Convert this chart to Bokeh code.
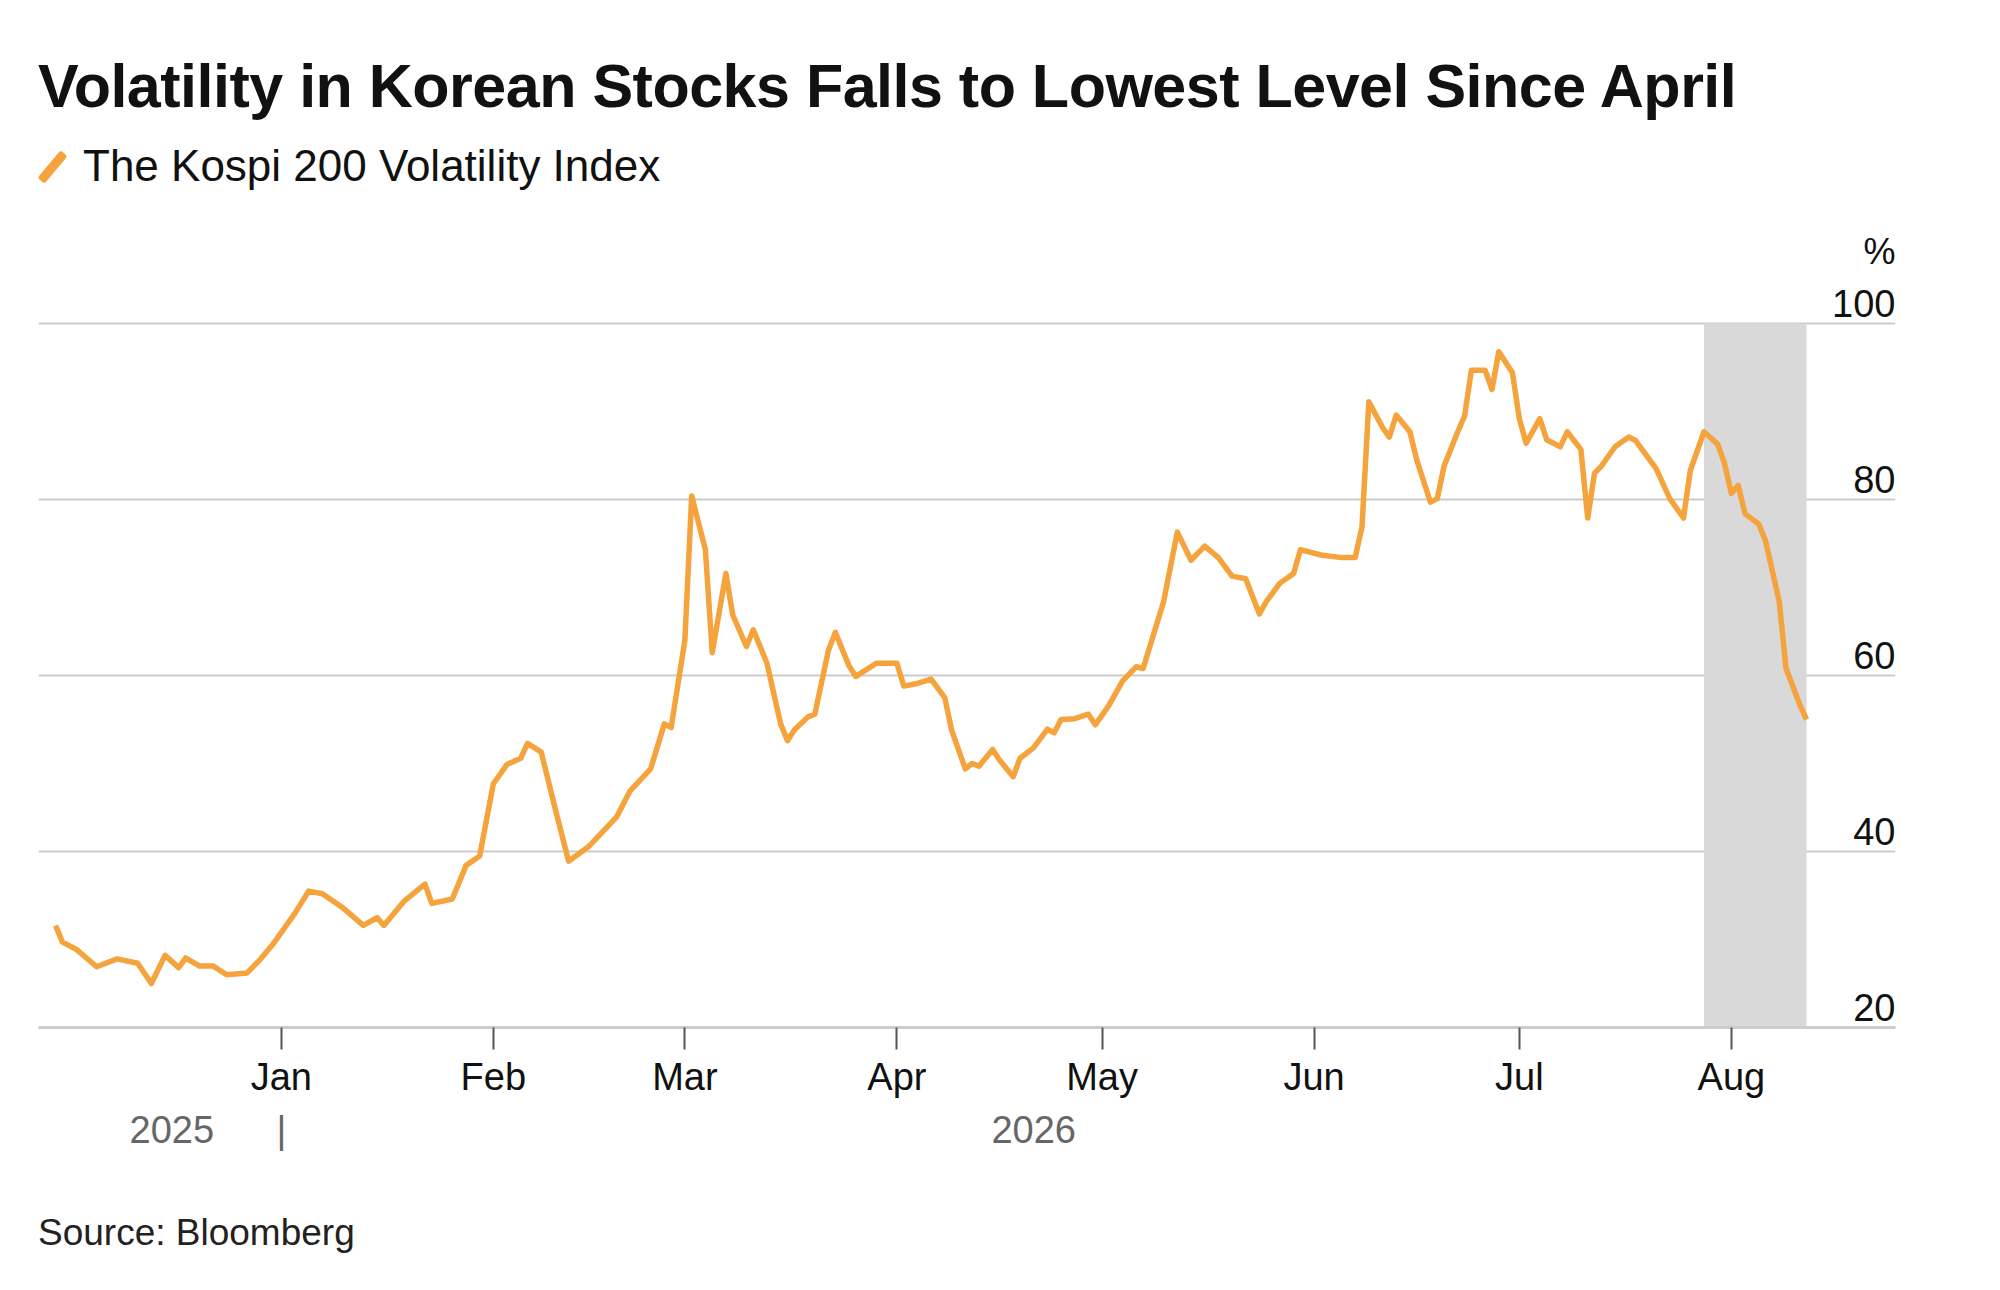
from datetime import datetime
import pandas as pd
from bokeh.plotting import figure
from bokeh.layouts import column
from bokeh.models import (Range1d, BoxAnnotation, Label, MonthsTicker, DatetimeTickFormatter, FixedTicker,
                          DatetimeAxis, Div)
from bokeh.embed import file_html
from bokeh.resources import INLINE

dates = ["2025-11-29","2025-11-30","2025-12-02","2025-12-05","2025-12-08","2025-12-11","2025-12-13","2025-12-15",
 "2025-12-17","2025-12-18","2025-12-20","2025-12-22","2025-12-24","2025-12-27","2025-12-29","2025-12-31",
 "2026-01-03","2026-01-05","2026-01-07","2026-01-10","2026-01-13","2026-01-15","2026-01-16","2026-01-19",
 "2026-01-22","2026-01-23","2026-01-26","2026-01-28","2026-01-30",
 "2026-02-01","2026-02-03","2026-02-05","2026-02-06","2026-02-08","2026-02-10","2026-02-12","2026-02-15",
 "2026-02-19","2026-02-21","2026-02-24","2026-02-26","2026-02-27",
 "2026-03-01","2026-03-02","2026-03-04","2026-03-05","2026-03-07","2026-03-08","2026-03-10","2026-03-11",
 "2026-03-13","2026-03-15","2026-03-16","2026-03-17","2026-03-19","2026-03-20","2026-03-22","2026-03-23",
 "2026-03-25","2026-03-26","2026-03-29",
 "2026-04-01","2026-04-02","2026-04-04","2026-04-06","2026-04-08","2026-04-09","2026-04-11","2026-04-12",
 "2026-04-13","2026-04-15","2026-04-16","2026-04-18","2026-04-19","2026-04-21","2026-04-23","2026-04-24",
 "2026-04-25","2026-04-27","2026-04-29","2026-04-30",
 "2026-05-02","2026-05-04","2026-05-06","2026-05-07","2026-05-10","2026-05-12","2026-05-14","2026-05-16",
 "2026-05-18","2026-05-20","2026-05-22","2026-05-24","2026-05-25","2026-05-27","2026-05-29","2026-05-30",
 "2026-06-02","2026-06-05","2026-06-07","2026-06-08","2026-06-09","2026-06-11","2026-06-12","2026-06-13",
 "2026-06-15","2026-06-16","2026-06-18","2026-06-19","2026-06-20","2026-06-22","2026-06-23","2026-06-24",
 "2026-06-26","2026-06-27","2026-06-28","2026-06-30",
 "2026-07-01","2026-07-02","2026-07-04","2026-07-05","2026-07-07","2026-07-08","2026-07-10","2026-07-11",
 "2026-07-12","2026-07-13","2026-07-15","2026-07-17","2026-07-18","2026-07-21","2026-07-23","2026-07-25",
 "2026-07-26","2026-07-28","2026-07-30","2026-07-31",
 "2026-08-01","2026-08-02","2026-08-03","2026-08-05","2026-08-06","2026-08-08","2026-08-09","2026-08-11","2026-08-12"]

vix = [31.6,29.7,28.9,26.9,27.8,27.3,25.0,28.2,
 26.8,27.9,27.0,27.0,26.0,26.2,27.8,29.7,
 33.0,35.5,35.2,33.6,31.6,32.5,31.6,34.4,
 36.3,34.1,34.6,38.4,39.5,
 47.7,49.9,50.6,52.3,51.3,45.0,38.9,40.6,
 43.9,46.9,49.4,54.5,54.1,
 64.0,80.4,74.3,62.6,71.6,66.9,63.3,65.2,
 61.4,54.5,52.6,53.8,55.3,55.6,62.9,64.9,
 61.1,59.9,61.4,
 61.4,58.8,59.1,59.6,57.5,53.8,49.4,50.0,
 49.7,51.6,50.4,48.5,50.6,51.8,53.9,53.5,
 55.0,55.1,55.6,54.4,
 56.6,59.4,61.0,60.8,68.4,76.3,73.1,74.7,
 73.4,71.3,71.0,67.0,68.4,70.5,71.6,74.3,
 73.7,73.4,73.4,76.9,91.1,88.2,87.1,89.6,
 87.7,84.5,79.7,80.1,83.8,87.7,89.5,94.7,
 94.7,92.5,96.8,94.4,
 89.2,86.4,89.2,86.8,86.0,87.7,85.7,77.9,
 83.0,83.8,86.0,87.1,86.7,83.5,80.1,77.9,
 83.3,87.7,86.3,84.1,
 80.7,81.6,78.4,77.2,75.3,68.4,60.8,56.7,55.0]

y_ticks = [20, 40, 60, 80, 100]
year_labels = {"2025-12-16": "2025", "2026-01-01": "|", "2026-04-21": "2026"}
shade_start, shade_end = "2026-07-28", "2026-08-12"
title_text = "Volatility in Korean Stocks Falls to Lowest Level Since April"
legend_text = "The Kospi 200 Volatility Index"
source_text = "Source: Bloomberg"

x = pd.to_datetime(dates)
ORANGE = "#f5a33c"
FONT = "Liberation Sans"
W = 1984

title = Div(text=f'<div style="font-family:\'{FONT}\';font-weight:bold;font-size:61px;line-height:61px;'
                 f'color:#111;padding:56px 0 0 38px;white-space:nowrap;letter-spacing:-0.5px">{title_text}</div>',
            width=W, height=126, margin=0)
legend = Div(text=f'<div style="font-family:\'{FONT}\';font-size:44px;line-height:44px;color:#111;'
                  f'padding:18px 0 0 38px;white-space:nowrap">'
                  f'<span style="display:inline-block;width:9px;height:36px;background:{ORANGE};'
                  f'transform:rotate(40deg);border-radius:3px;margin:0 26px 0 10px;vertical-align:-4px"></span>'
                  f'{legend_text}</div>',
             width=W, height=72, margin=0)

p = figure(width=W, height=964, x_axis_type="datetime", output_backend="svg", toolbar_location=None,
           x_range=Range1d(datetime(2025, 11, 26, 12), datetime(2026, 8, 25)), y_range=Range1d(20, 110.8),
           min_border_left=38, min_border_right=89, min_border_top=30, min_border_bottom=135, margin=0)
p.outline_line_color = None
p.xgrid.grid_line_color = None
p.yaxis.ticker = FixedTicker(ticks=y_ticks)
p.yaxis.visible = False
p.ygrid.grid_line_color = "#cccccc"
p.ygrid.grid_line_width = 2

p.add_layout(BoxAnnotation(left=pd.Timestamp(shade_start), right=pd.Timestamp(shade_end),
                           bottom=20, top=100,
                           fill_color="#d9d9d9", fill_alpha=1, line_color=None, level="underlay"))

p.line(x, vix, line_color=ORANGE, line_width=5.5, line_join="round")

ax = p.xaxis[0]
ax.ticker = MonthsTicker(months=list(range(0, 8)))
ax.formatter = DatetimeTickFormatter(months="%b", days="%b")
ax.axis_line_color = "#cccccc"
ax.axis_line_width = 3
ax.major_tick_line_color = "#555555"
ax.major_tick_line_width = 2
ax.major_tick_out = 22
ax.major_tick_in = 0
ax.minor_tick_line_color = None
ax.major_label_text_font = FONT
ax.major_label_text_font_size = "38px"
ax.major_label_text_color = "#111111"
ax.major_label_standoff = 6

ms = {int(pd.Timestamp(k).value // 10**6): v for k, v in year_labels.items()}
yax = DatetimeAxis(ticker=FixedTicker(ticks=list(ms.keys())), major_label_overrides=ms,
                   axis_line_color=None, major_tick_line_color=None, minor_tick_line_color=None,
                   major_label_text_font=FONT, major_label_text_font_size="38px",
                   major_label_text_color="#666666", major_label_standoff=2)
p.add_layout(yax, "below")

x1 = p.x_range.end
p.add_layout(Label(x=x1, y=100, y_offset=72, text="%", text_align="right", text_font=FONT,
                   text_font_size="36px", text_color="#111111", text_baseline="alphabetic"))
for t in y_ticks:
    p.add_layout(Label(x=x1, y=t, y_offset=20, text=str(t), text_align="right", text_font=FONT,
                       text_font_size="38px", text_color="#111111", text_baseline="alphabetic"))

source = Div(text=f'<div style="font-family:\'{FONT}\';font-size:37px;line-height:37px;color:#222;'
                  f'padding:52px 0 0 38px;white-space:nowrap">{source_text}</div>',
             width=W, height=110, margin=0)

layout = column(title, legend, p, source, spacing=0)
open("out.html", "w").write(file_html(layout, INLINE))
